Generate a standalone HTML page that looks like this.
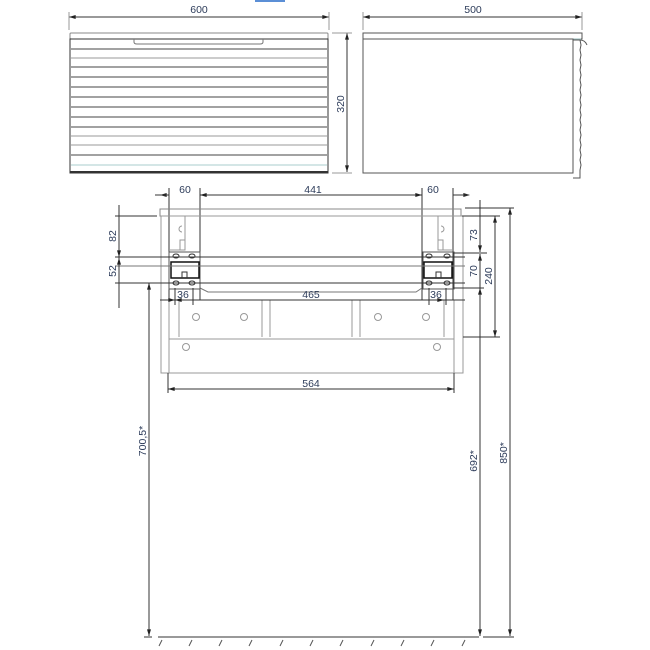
<!DOCTYPE html>
<html><head><meta charset="utf-8"><style>
html,body{margin:0;padding:0;background:#fff}
svg{display:block}
text{font-family:"Liberation Sans",sans-serif;font-size:10.5px;fill:#2d3c5a}
</style></head><body>
<svg width="650" height="650" viewBox="0 0 650 650" xmlns="http://www.w3.org/2000/svg">
<defs>
<marker id="a" viewBox="0 0 10 6" refX="10" refY="3" markerWidth="7" markerHeight="4" orient="auto-start-reverse"><path d="M0,0 L10,3 L0,6z" fill="#222"/></marker>
</defs>
<rect x="255" y="0" width="30" height="2" fill="#5b8fd6"/>
<g stroke="#333" stroke-width="1" fill="none">
<!-- front view -->
<line x1="69" y1="17" x2="329" y2="17" marker-start="url(#a)" marker-end="url(#a)"/>
<line x1="69" y1="12" x2="69" y2="30" stroke="#999"/>
<line x1="329" y1="12" x2="329" y2="30" stroke="#999"/>
<rect x="70" y="33" width="258" height="6" stroke="#888" rx="1"/>
<rect x="70" y="39" width="258" height="134" stroke="#333"/>
<path d="M134,39 v3 q0,2 3,2 h123 q3,0 3,-2 v-3" stroke="#777"/>
<g stroke="#444">
<line x1="71" y1="49" x2="327" y2="49"/><line x1="71" y1="58" x2="327" y2="58" stroke="#999"/>
<line x1="71" y1="67" x2="327" y2="67"/><line x1="71" y1="77" x2="327" y2="77"/>
<line x1="71" y1="87" x2="327" y2="87"/><line x1="71" y1="97" x2="327" y2="97"/>
<line x1="71" y1="107" x2="327" y2="107"/><line x1="71" y1="117" x2="327" y2="117"/>
<line x1="71" y1="127" x2="327" y2="127"/><line x1="71" y1="136" x2="327" y2="136" stroke="#999"/>
<line x1="71" y1="145" x2="327" y2="145" stroke="#999"/><line x1="71" y1="155" x2="327" y2="155"/>
<line x1="71" y1="165" x2="327" y2="165" stroke="#acc"/>
</g>
<line x1="70" y1="172" x2="328" y2="172" stroke-width="2"/>
<line x1="347" y1="33" x2="347" y2="172" marker-start="url(#a)" marker-end="url(#a)"/>
<line x1="332" y1="33" x2="352" y2="33" stroke="#999"/>
<line x1="332" y1="173" x2="352" y2="173" stroke="#999"/>
<!-- side view -->
<line x1="363" y1="17" x2="582" y2="17" marker-start="url(#a)" marker-end="url(#a)"/>
<line x1="363" y1="12" x2="363" y2="30" stroke="#999"/>
<line x1="582" y1="12" x2="582" y2="30" stroke="#999"/>
<rect x="363" y="33" width="219" height="6" stroke="#555"/>
<line x1="364" y1="39" x2="581" y2="39" stroke="#9bb"/>
<rect x="363" y="39" width="210" height="134" stroke="#555"/>
<path d="M573,40 h7 q5,0 7,5 M580,40 l1,5 l-1,5 l1,5 l-1,5 l1,5 l-1,5 l1,5 l-1,5 l1,5 l-1,5 l1,5 l-1,5 l1,5 l-1,5 l1,5 l-1,5 l1,5 l-1,5 l1,5 l-1,5 l1,5 l-1,5 l1,5 l-1,5 l1,5 l-1,5 v8 h-7" stroke="#555"/>
<!-- bottom view -->
<line x1="160" y1="195" x2="470" y2="195" marker-start="url(#a)" marker-end="url(#a)" stroke="none"/>
<line x1="155" y1="195" x2="169" y2="195"/><line x1="200" y1="195" x2="422" y2="195" marker-start="url(#a)" marker-end="url(#a)"/>
<line x1="453" y1="195" x2="468" y2="195"/>
<line x1="169" y1="188" x2="169" y2="300"/><line x1="200" y1="188" x2="200" y2="300"/>
<line x1="422" y1="188" x2="422" y2="300"/><line x1="453" y1="188" x2="453" y2="300"/>
<rect x="160" y="209" width="301" height="7" stroke="#888"/>
<rect x="161" y="216" width="302" height="157" stroke="#999"/>
<line x1="169" y1="300" x2="169" y2="373" stroke="#999"/><line x1="454" y1="300" x2="454" y2="373" stroke="#999"/>
<line x1="169" y1="339" x2="454" y2="339" stroke="#999"/>
<line x1="169" y1="300" x2="454" y2="300" stroke="#999"/>
<g stroke="#999">
<line x1="179" y1="300" x2="179" y2="337"/><line x1="262" y1="300" x2="262" y2="337"/>
<line x1="270" y1="300" x2="270" y2="337"/><line x1="352" y1="300" x2="352" y2="337"/>
<line x1="360" y1="300" x2="360" y2="337"/><line x1="444" y1="300" x2="444" y2="337"/>
<circle cx="196" cy="317" r="3.5"/><circle cx="244" cy="317" r="3.5"/>
<circle cx="378" cy="317" r="3.5"/><circle cx="426" cy="317" r="3.5"/>
<circle cx="186" cy="347" r="3.5"/><circle cx="437" cy="347" r="3.5"/>
<path d="M169,216 h16 v34 h-16 M185,240 h-5 v10 M182,226 a3,3 0 0,0 0,6"/>
<path d="M454,216 h-16 v34 h16 M438,240 h5 v10 M441,226 a3,3 0 0,1 0,6"/>
<path d="M200,288 l8,4 h208 l6,-4" stroke="#777"/>
</g>
<!-- brackets -->
<g>
<rect x="169" y="252" width="31" height="37" stroke="#555"/>
<rect x="171" y="262" width="28" height="16" stroke="#111" stroke-width="1.5"/>
<path d="M182,278 v-6 h5 v6" stroke="#333"/>
<rect x="423" y="252" width="31" height="37" stroke="#555"/>
<rect x="424" y="262" width="28" height="16" stroke="#111" stroke-width="1.5"/>
<path d="M436,278 v-6 h5 v6" stroke="#333"/>
<g fill="#fff" stroke="#333">
<ellipse cx="176" cy="256" rx="3" ry="2"/><ellipse cx="192" cy="256" rx="3" ry="2"/>
<ellipse cx="176" cy="283" rx="3" ry="2"/><ellipse cx="192" cy="283" rx="3" ry="2"/>
<ellipse cx="429" cy="256" rx="3" ry="2"/><ellipse cx="447" cy="256" rx="3" ry="2"/>
<ellipse cx="429" cy="283" rx="3" ry="2"/><ellipse cx="447" cy="283" rx="3" ry="2"/>
</g>
</g>
<!-- horizontal ext lines -->
<line x1="115" y1="216" x2="157" y2="216"/>
<line x1="115" y1="257" x2="465" y2="257"/>
<line x1="115" y1="266" x2="465" y2="266" stroke="#777"/>
<line x1="115" y1="283" x2="465" y2="283"/>
<line x1="119" y1="205" x2="119" y2="308"/>
<line x1="119" y1="206" x2="119" y2="257" marker-end="url(#a)"/>
<line x1="119" y1="283" x2="119" y2="258" marker-end="url(#a)"/>
<line x1="465" y1="208" x2="514" y2="208"/>
<line x1="462" y1="216" x2="500" y2="216"/>
<line x1="453" y1="253" x2="487" y2="253"/>
<line x1="453" y1="288" x2="484" y2="288"/>
<line x1="463" y1="337" x2="500" y2="337"/>
<line x1="480" y1="200" x2="480" y2="252" marker-end="url(#a)"/>
<line x1="480" y1="288" x2="480" y2="254" marker-end="url(#a)"/>
<line x1="480" y1="288" x2="480" y2="636" marker-start="url(#a)" marker-end="url(#a)"/>
<line x1="495" y1="216" x2="495" y2="337" marker-start="url(#a)" marker-end="url(#a)"/>
<line x1="510" y1="208" x2="510" y2="636" marker-start="url(#a)" marker-end="url(#a)"/>
<line x1="149" y1="283" x2="149" y2="636" marker-start="url(#a)" marker-end="url(#a)"/>
<!-- 36 / 465 -->
<line x1="160" y1="300" x2="175" y2="300" marker-end="url(#a)"/>
<line x1="175" y1="300" x2="444" y2="300" marker-start="url(#a)" marker-end="url(#a)"/>
<line x1="444" y1="300" x2="465" y2="300"/>
<line x1="175" y1="288" x2="175" y2="305"/><line x1="193" y1="288" x2="193" y2="305"/>
<line x1="429" y1="288" x2="429" y2="305"/><line x1="446" y1="288" x2="446" y2="305"/>
<!-- 564 -->
<line x1="168" y1="373" x2="168" y2="393"/><line x1="454" y1="373" x2="454" y2="393"/>
<line x1="168" y1="389" x2="454" y2="389" marker-start="url(#a)" marker-end="url(#a)"/>
<!-- ground -->
<line x1="144" y1="637" x2="152" y2="637"/>
<line x1="158" y1="637" x2="479" y2="637"/>
<line x1="483" y1="637" x2="514" y2="637"/>
<g stroke="#555">
<path d="M162,640 l-3,6 M192,640 l-3,6 M222,640 l-3,6 M252,640 l-3,6 M283,640 l-3,6 M313,640 l-3,6 M343,640 l-3,6 M374,640 l-3,6 M404,640 l-3,6 M434,640 l-3,6 M465,640 l-3,6"/>
</g>
</g>
<text x="199" y="13" text-anchor="middle">600</text>
<text x="473" y="13" text-anchor="middle">500</text>
<text transform="translate(344,104) rotate(-90)" text-anchor="middle">320</text>
<text x="185" y="193" text-anchor="middle">60</text>
<text x="313" y="193" text-anchor="middle">441</text>
<text x="433" y="193" text-anchor="middle">60</text>
<text transform="translate(116,236) rotate(-90)" text-anchor="middle">82</text>
<text transform="translate(116,271) rotate(-90)" text-anchor="middle">52</text>
<text transform="translate(477,235) rotate(-90)" text-anchor="middle">73</text>
<text transform="translate(477,271) rotate(-90)" text-anchor="middle">70</text>
<text transform="translate(492,276) rotate(-90)" text-anchor="middle">240</text>
<text x="183" y="298" text-anchor="middle">36</text>
<text x="311" y="298" text-anchor="middle">465</text>
<text x="436" y="298" text-anchor="middle">36</text>
<text x="311" y="387" text-anchor="middle">564</text>
<text transform="translate(146,441) rotate(-90)" text-anchor="middle">700,5*</text>
<text transform="translate(477,461) rotate(-90)" text-anchor="middle">692*</text>
<text transform="translate(507,453) rotate(-90)" text-anchor="middle">850*</text>
</svg>
</body></html>
